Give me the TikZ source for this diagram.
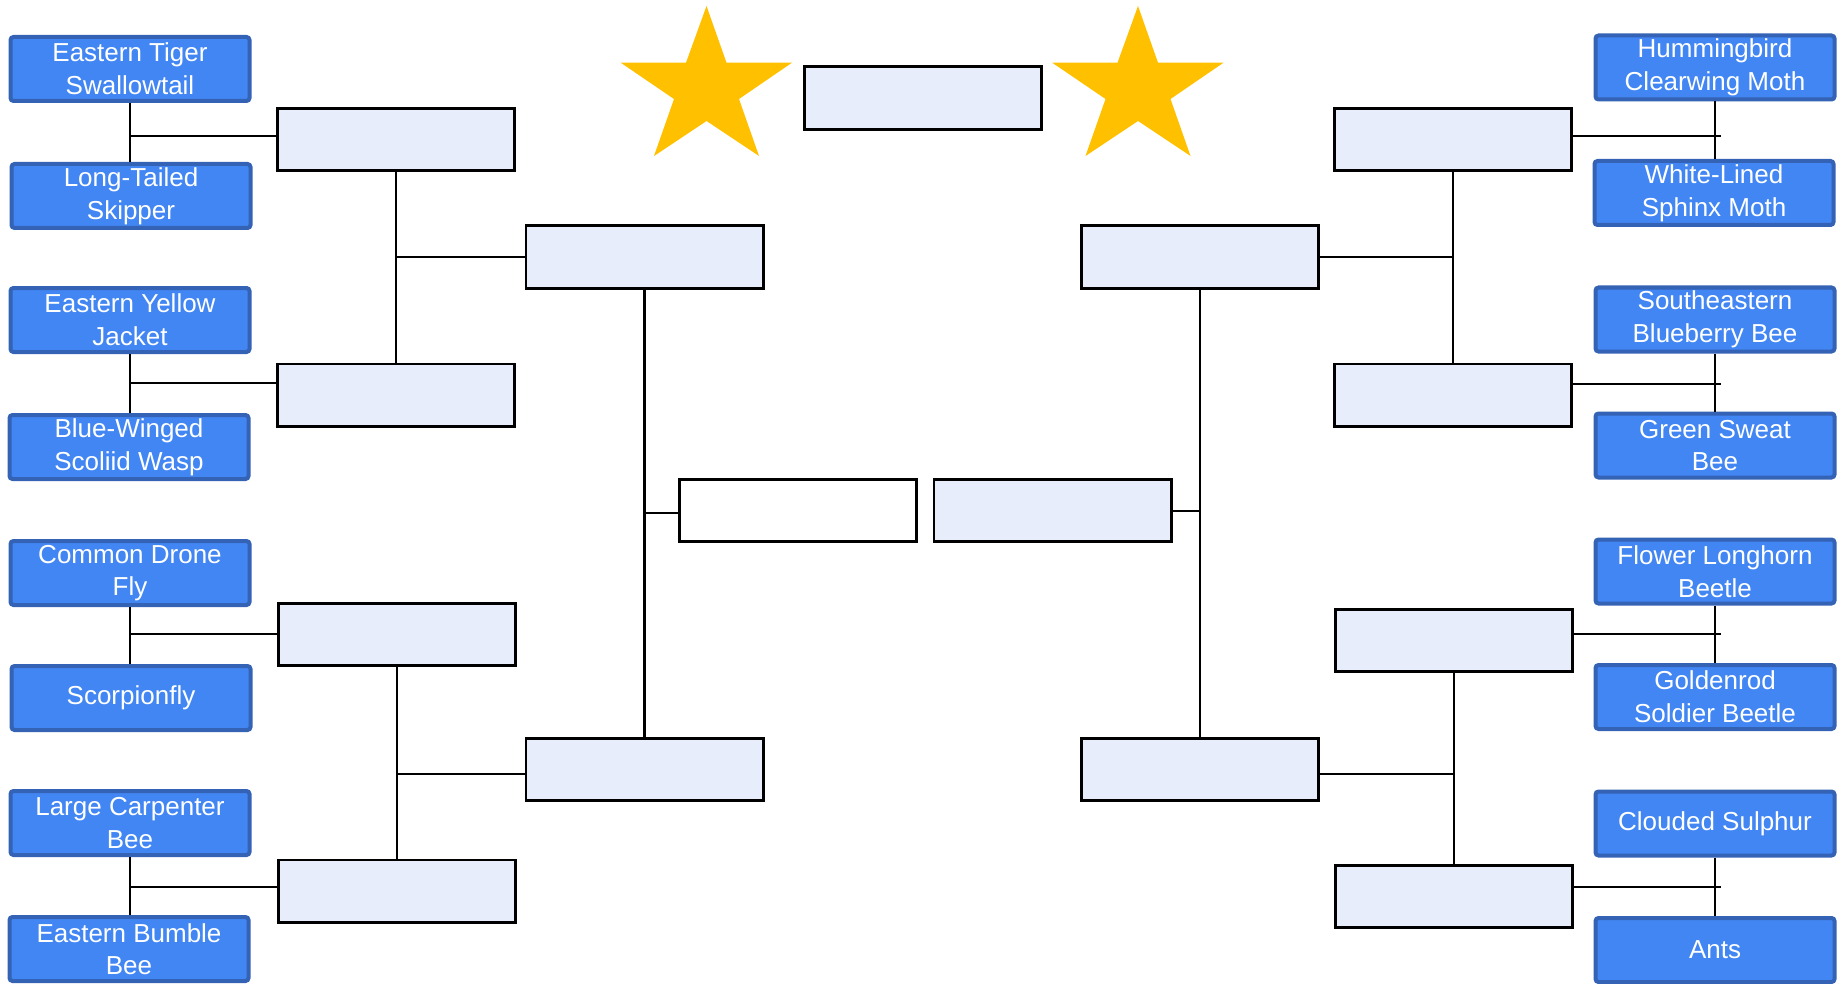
\documentclass[tikz,border=0pt]{standalone}
\usepackage{fontspec}
\setmainfont{Liberation Sans}
\definecolor{equipfons}{HTML}{4286F4}
\definecolor{equipvora}{HTML}{3462B5}
\definecolor{casellafons}{HTML}{E7EDFB}
\definecolor{estrella}{HTML}{FFC000}

\begin{document}
\begin{tikzpicture}[x=0.5pt, y=-0.5pt,
    equip/.style={draw=equipvora, line width=2pt, fill=equipfons, rounded corners=1.5pt,
        text=white, font=\fontsize{13}{16.3}\selectfont, align=center,
        minimum width=119.5pt, minimum height=32pt, inner sep=1pt},
    casella/.style={draw=black, line width=1.3pt, fill=casellafons,
        minimum width=118.7pt, minimum height=31.2pt, inner sep=0pt},
    linia/.style={line width=1.4pt}]
    \useasboundingbox (0,0) rectangle (1841,984);

    % Estrelles (a dalt)
    \foreach \dx in {0,431.5}
        \fill[estrella, shift={(\dx,0)}] (706.5,6) -- (726.5,62.7) -- (792,62.7) -- (739,99)
            -- (759,156) -- (706.5,121) -- (654,156) -- (674,99) -- (620.7,62.7) -- (686,62.7) -- cycle;

    % Campio i final
    \node[casella, minimum height=31.7pt] (campio) at (923,98) {};
    \node[casella, fill=white] (finalE) at (798,510.5) {};
    \node[casella] (finalD) at (1052.5,510.5) {};

    % Semifinals
    \node[casella] (semiE1) at (644.5,257) {};
    \node[casella] (semiE2) at (644.5,769.5) {};
    \node[casella] (semiD1) at (1200,257) {};
    \node[casella] (semiD2) at (1200,769.5) {};

    % Primera ronda
    \node[casella] (r1E1) at (396,139.5) {};
    \node[casella] (r1E2) at (396,395) {};
    \node[casella] (r1E3) at (397,634.5) {};
    \node[casella] (r1E4) at (397,891) {};
    \node[casella] (r1D1) at (1453,139.5) {};
    \node[casella] (r1D2) at (1453,395) {};
    \node[casella] (r1D3) at (1454,640.5) {};
    \node[casella] (r1D4) at (1454,896.5) {};

    % Equips (esquerra)
    \node[equip] (eE1) at (130,69) {Eastern Tiger\\Swallowtail};
    \node[equip] (eE2) at (131,196) {Long-Tailed\\Skipper};
    \node[equip] (eE3) at (130,320) {Eastern Yellow\\Jacket};
    \node[equip] (eE4) at (129,447) {Blue-Winged\\Scoliid Wasp};
    \node[equip] (eE5) at (130,573) {Common Drone\\Fly};
    \node[equip] (eE6) at (131,698) {Scorpionfly};
    \node[equip] (eE7) at (130,823) {Large Carpenter\\Bee};
    \node[equip] (eE8) at (129,949) {Eastern Bumble\\Bee};

    % Equips (dreta)
    \node[equip] (eD1) at (1715,67.5) {Hummingbird\\Clearwing Moth};
    \node[equip] (eD2) at (1714,193) {White-Lined\\Sphinx Moth};
    \node[equip] (eD3) at (1715,319.5) {Southeastern\\Blueberry Bee};
    \node[equip] (eD4) at (1715,445.5) {Green Sweat\\Bee};
    \node[equip] (eD5) at (1715,571.5) {Flower Longhorn\\Beetle};
    \node[equip] (eD6) at (1715,697) {Goldenrod\\Soldier Beetle};
    \node[equip] (eD7) at (1715,823.5) {Clouded Sulphur};
    \node[equip] (eD8) at (1715,950) {Ants};

    % Punts d'unio
    \coordinate (jE1) at (130,136);
    \coordinate (jE2) at (130,383);
    \coordinate (jE3) at (130,634);
    \coordinate (jE4) at (130,887);
    \coordinate (jD1) at (1721,136);
    \coordinate (jD2) at (1721,384);
    \coordinate (jD3) at (1721,634);
    \coordinate (jD4) at (1721,887);

    % Linies esquerra
    \draw[linia] (eE1.south) -- (eE1.south |- eE2.north);
    \draw[linia] (eE3.south) -- (eE3.south |- eE4.north);
    \draw[linia] (eE5.south) -- (eE5.south |- eE6.north);
    \draw[linia] (eE7.south) -- (eE7.south |- eE8.north);
    \foreach \i in {1,...,4}
        \draw[linia] (jE\i) -- (r1E\i.west |- jE\i);
    \draw[linia] (r1E1.south) -- (r1E2.north);
    \draw[linia] (r1E3.south) -- (r1E4.north);
    \draw[linia] (r1E1.south |- semiE1.west) -- (semiE1.west);
    \draw[linia] (r1E3.south |- 0,774) -- (semiE2.west |- 0,774);
    \draw[linia] (semiE1.south) -- (semiE2.north);
    \draw[linia] (semiE1.south |- 0,513) -- (finalE.west |- 0,513);

    % Linies dreta
    \draw[linia] (eD1.south) -- (eD1.south |- eD2.north);
    \draw[linia] (eD3.south) -- (eD3.south |- eD4.north);
    \draw[linia] (eD5.south) -- (eD5.south |- eD6.north);
    \draw[linia] (eD7.south) -- (eD7.south |- eD8.north);
    \foreach \i in {1,...,4}
        \draw[linia] (r1D\i.east |- jD\i) -- (jD\i);
    \draw[linia] (r1D1.south) -- (r1D2.north);
    \draw[linia] (r1D3.south) -- (r1D4.north);
    \draw[linia] (semiD1.east) -- (semiD1.east -| r1D1.south);
    \draw[linia] (semiD2.east |- 0,774) -- (r1D3.south |- 0,774);
    \draw[linia] (semiD1.south) -- (semiD2.north);
    \draw[linia] (finalD.east |- 0,511) -- (semiD1.south |- 0,511);
\end{tikzpicture}
\end{document}
